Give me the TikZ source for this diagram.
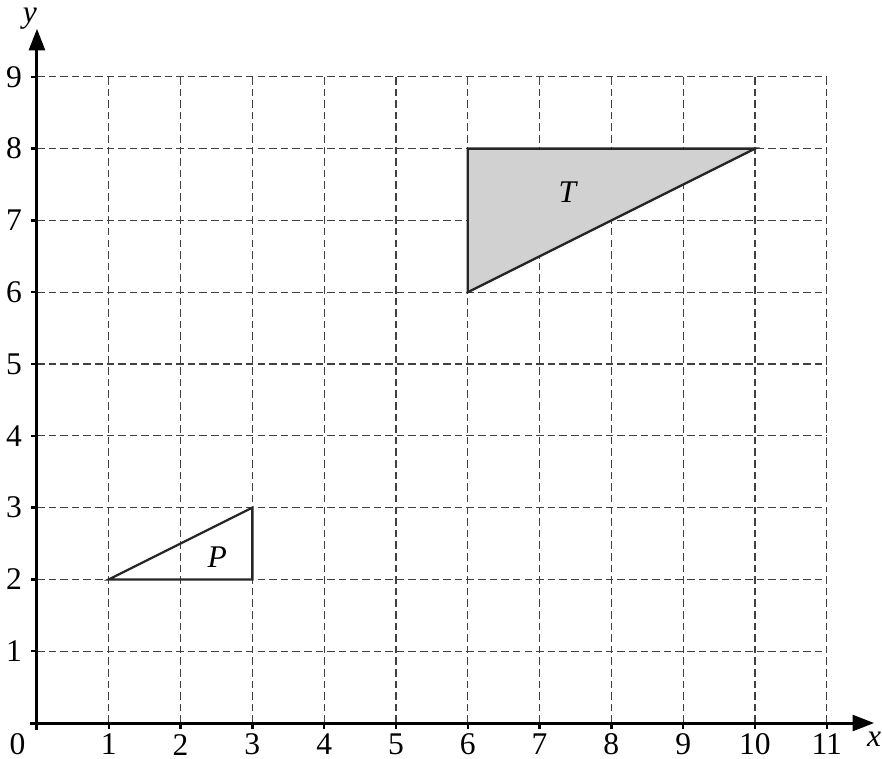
\documentclass[tikz,border=0pt]{standalone}
\usepackage{fontspec}
\setmainfont{Liberation Serif}
\usetikzlibrary{arrows.meta}
\begin{document}
\begin{tikzpicture}[x=1cm,y=1cm,
  gridline/.style={draw=black!75, line width=0.5pt, dash pattern=on 3pt off 1.6pt},
  axisline/.style={draw=black, line width=1.2pt, -{Triangle[length=0.3cm,width=0.22cm]}},
  tickline/.style={draw=black, line width=1pt},
  shapeline/.style={draw=black!85, line width=0.9pt, line join=miter},
  lab/.style={font=\fontsize{12.5pt}{14pt}\selectfont, inner sep=0pt}
]
\useasboundingbox (-0.515,-0.501) rectangle (11.769,10.070);
% grid
\foreach \i in {1,...,11} \draw[gridline] (\i,0) -- (\i,9);
\foreach \j in {1,...,9} \draw[gridline] (0,\j) -- (11,\j);
% shapes
\fill[black!18] (6,6) -- (6,8) -- (10,8) -- cycle;
\draw[shapeline] (6,6) -- (6,8) -- (10,8) -- cycle;
\draw[shapeline] (1,2) -- (3,3) -- (3,2) -- cycle;
\node[lab] (P) at (2.51,2.31) {\textit{P}};
\node[lab] (T) at (7.40,7.40) {\textit{T}};
% axes
\coordinate (xs) at (-0.1,0);
\coordinate (xe) at (11.66,0);
\coordinate (ys) at (0,-0.1);
\coordinate (ye) at (0,9.67);
\draw[axisline] (xs) -- (xe);
\draw[axisline] (ys) -- (ye);
\foreach \i in {1,...,11} \draw[tickline] (\i,0) -- (\i,-0.09);
\foreach \j in {1,...,9} \draw[tickline] (0,\j) -- (-0.09,\j);
\foreach \i in {1,...,11} \node[lab] (xl\i) at (\i,-0.3) {\i};
\foreach \j in {1,...,9} \node[lab] (yl\j) at (-0.32,\j) {\j};
\node[lab] (o) at (-0.27,-0.3) {0};
\node[lab] (xlab) at (11.66,-0.22) {\textit{x}};
\node[lab] (ylab) at (-0.1,9.81) {\textit{y}};
\end{tikzpicture}
\end{document}
